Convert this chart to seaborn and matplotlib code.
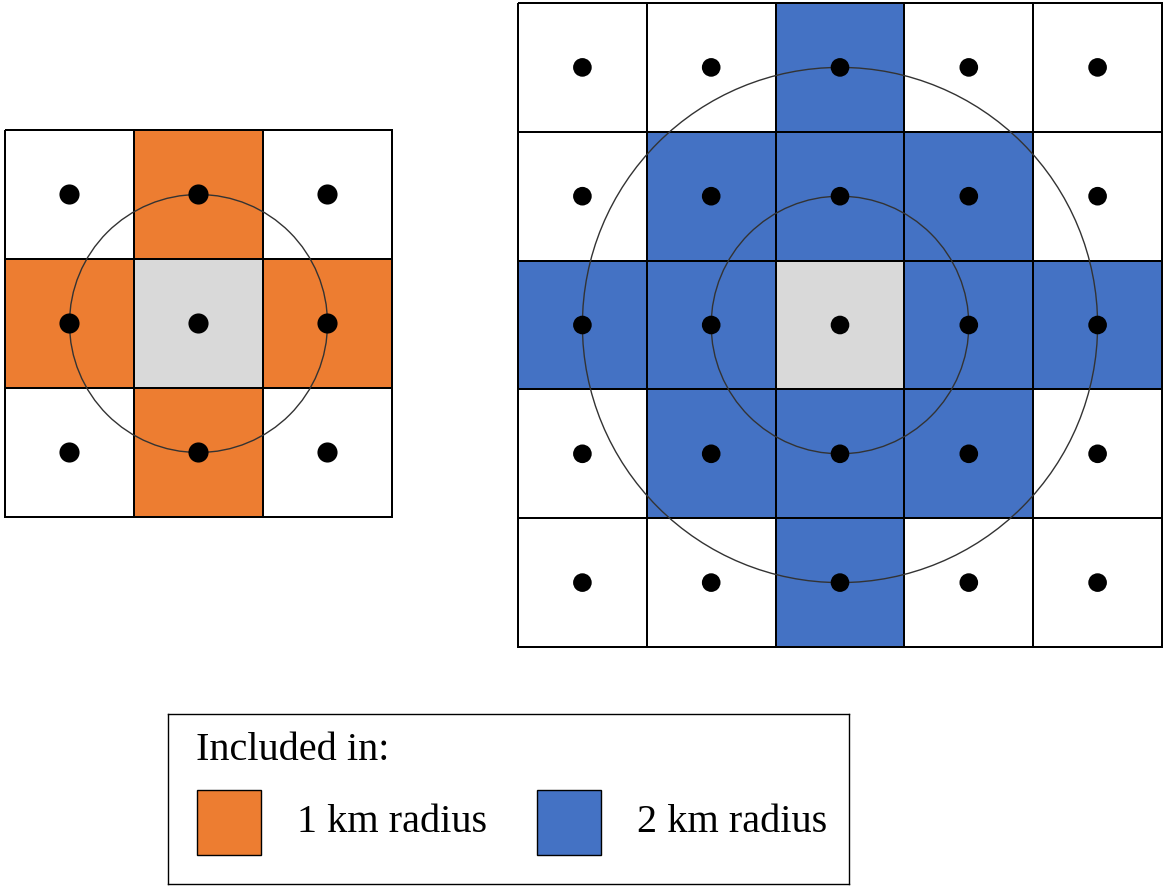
"""
Neighbourhood diagram: grid cells whose centres fall within a 1 km / 2 km radius.
"""

import numpy as np
import pandas as pd
import matplotlib
matplotlib.use("Agg")
import matplotlib.pyplot as plt
from matplotlib.colors import ListedColormap
from matplotlib.patches import Circle, Rectangle
import seaborn as sns

# ── data ──────────────────────────────────────────────────────────
# 0 = outside, 1 = included, 2 = focal cell
LEFT_GRID = [[0, 1, 0],
             [1, 2, 1],
             [0, 1, 0]]
RIGHT_GRID = [[0, 0, 1, 0, 0],
              [0, 1, 1, 1, 0],
              [1, 1, 2, 1, 1],
              [0, 1, 1, 1, 0],
              [0, 0, 1, 0, 0]]
LEFT_RADII_KM = [1]
RIGHT_RADII_KM = [1, 2]
LEGEND_TITLE = "Included in:"
LEGEND_LABELS = ["1 km radius", "2 km radius"]

ORANGE = "#ED7D31"
BLUE = "#4472C4"
GREY = "#D9D9D9"
W, H = 1163, 886

sns.set_theme(style="white")
plt.rcParams["font.family"] = ["Liberation Serif", "DejaVu Serif"]

fig = plt.figure(figsize=(W / 100, H / 100), dpi=100, facecolor="white")


def px_axes(x0, y0, x1, y1):
    """axes placed by pixel box (top-left origin)"""
    return fig.add_axes([x0 / W, 1 - y1 / H, (x1 - x0) / W, (y1 - y0) / H])


def draw_grid(ax, grid, color, radii, dot_size):
    arr = np.array(grid)
    n = arr.shape[0]
    sns.heatmap(arr, ax=ax, cmap=ListedColormap(["white", color, GREY]),
                vmin=-0.5, vmax=2.5, cbar=False, linewidths=1.1,
                linecolor="black", square=False,
                xticklabels=False, yticklabels=False)
    ax.collections[0].set_clip_on(False)
    # cell centres
    yy, xx = np.mgrid[0:n, 0:n]
    pts = pd.DataFrame({"x": xx.ravel() + 0.5, "y": yy.ravel() + 0.5})
    sns.scatterplot(data=pts, x="x", y="y", ax=ax, color="black",
                    s=dot_size, edgecolor="none", zorder=5, clip_on=False)
    c = n / 2
    for r in radii:
        ax.add_patch(Circle((c, c), r, fill=False, edgecolor="#333333",
                            linewidth=1.0, zorder=4, clip_on=False))
    ax.set_xlabel("")
    ax.set_ylabel("")
    ax.axis("off")


ax_l = px_axes(5, 130, 392, 517)
draw_grid(ax_l, LEFT_GRID, ORANGE, LEFT_RADII_KM, 210)

ax_r = px_axes(518, 3, 1162, 647)
draw_grid(ax_r, RIGHT_GRID, BLUE, RIGHT_RADII_KM, 180)

# ── legend box ────────────────────────────────────────────────────
ax_g = px_axes(168, 714, 849, 884)
ax_g.set_xlim(168, 849)
ax_g.set_ylim(884, 714)
ax_g.set_xticks([])
ax_g.set_yticks([])
for s in ax_g.spines.values():
    s.set_color("black")
    s.set_linewidth(1.0)

ax_g.text(196, 751, LEGEND_TITLE, fontsize=29, va="center", ha="left",
          color="black")
for x0, lab, col in zip([197, 537], LEGEND_LABELS, [ORANGE, BLUE]):
    ax_g.add_patch(Rectangle((x0, 790), 64, 65, facecolor=col,
                             edgecolor="black", linewidth=1.0))
    ax_g.text(x0 + 100, 823, lab, fontsize=29, va="center", ha="left",
              color="black")

fig.savefig("out.png", dpi=100, facecolor="white")
